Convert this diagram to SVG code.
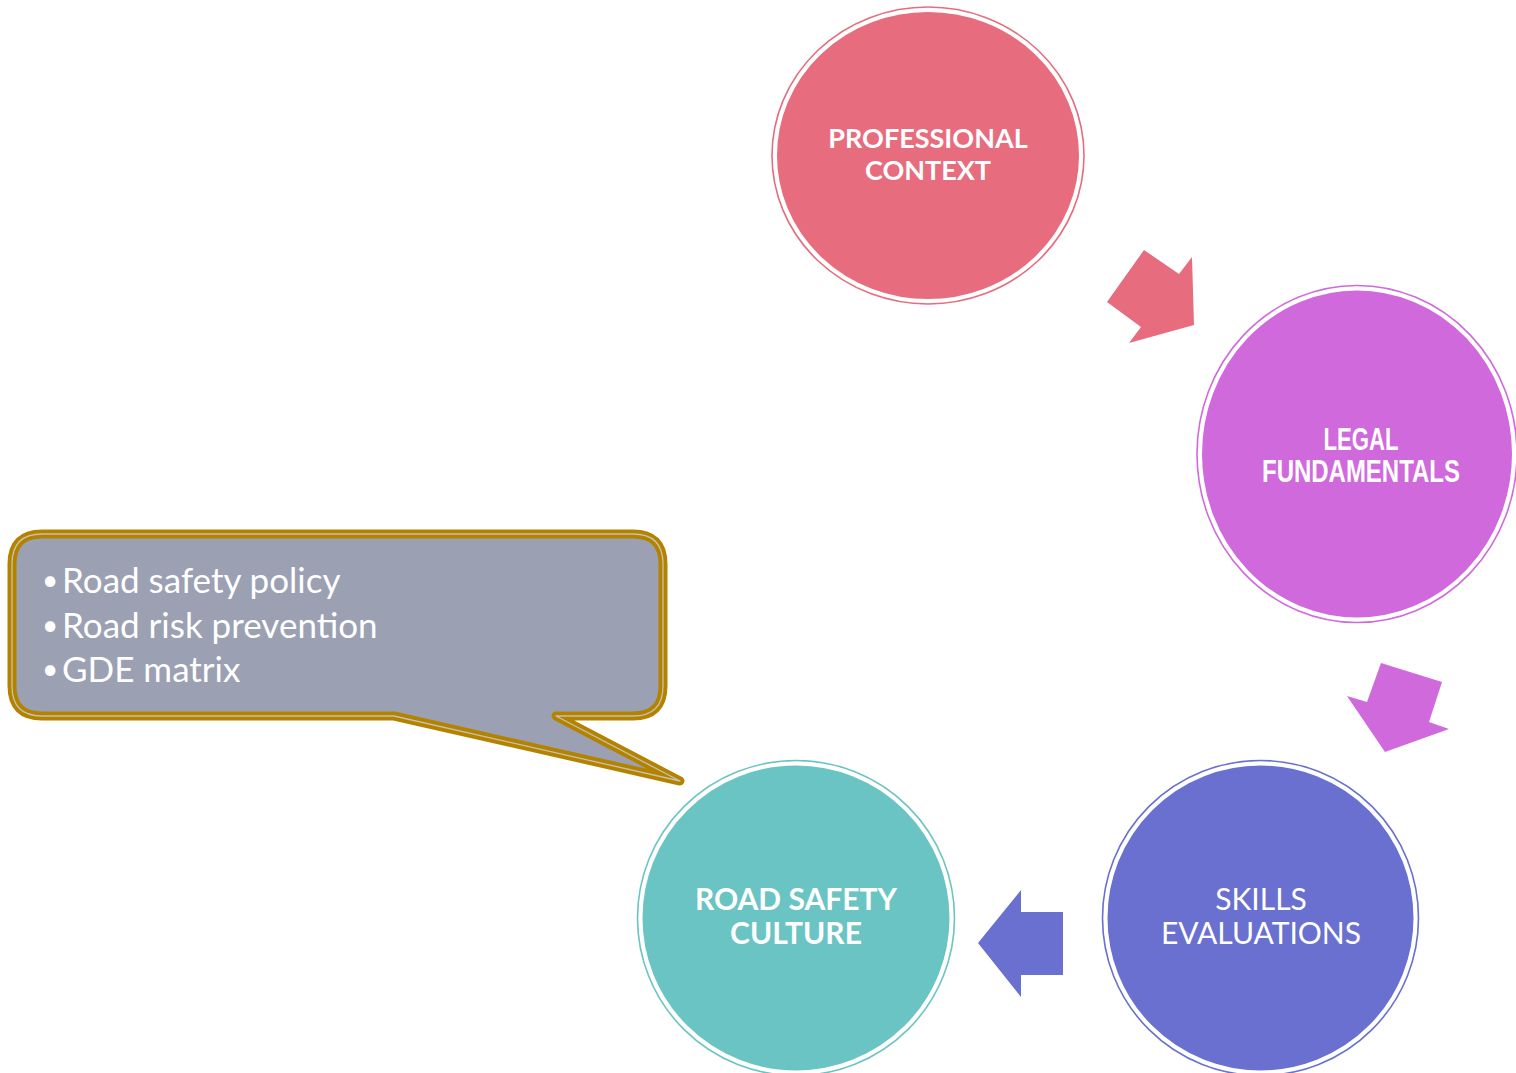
<svg xmlns="http://www.w3.org/2000/svg" width="1516" height="1073" viewBox="0 0 1516 1073">
<style>
.ring{fill:none;stroke-width:1.6}
.disc{stroke:#fff;stroke-width:3}
.lbl{fill:#fff;font-family:Lato,"Open Sans","Liberation Sans",sans-serif;font-size:27px;text-anchor:middle}
.big{font-size:30px}
.b{font-weight:bold}
.arial{font-family:"Liberation Sans",Arial,sans-serif;font-weight:bold;font-size:31px}
.bul{fill:#fff;font-family:Lato,"Open Sans","Liberation Sans",sans-serif;font-size:35px}
.dot{fill:#fff;font-family:Lato,"Open Sans","Liberation Sans",sans-serif;font-size:28px}
</style>
<rect width="1516" height="1073" fill="#fff"/>
<g id="connectors">
<polygon points="1107,302 1144,250 1179,274 1192,257 1194,325 1129,343 1141,327" fill="#E66C7E"/>
<polygon points="1381,663 1442,682 1429,722 1449,729 1385,752 1347,696 1367,702" fill="#CF69DC"/>
<polygon points="1021,890 1021,912 1063,912 1063,975 1021,975 1021,997 978,943" fill="#6970D0"/>
</g>
<g id="professional">
<ellipse cx="928" cy="155.5" rx="156" ry="148.5" class="ring" stroke="#E66C7E"/>
<ellipse cx="928" cy="155.5" rx="152.5" ry="145" class="disc" fill="#E66C7E"/>
<text class="lbl b" x="928" y="148">PROFESSIONAL</text>
<text class="lbl b" x="928" y="180">CONTEXT</text>
</g>
<g id="legal">
<ellipse cx="1357" cy="454" rx="160" ry="168.5" class="ring" stroke="#CF69DC"/>
<ellipse cx="1357" cy="454" rx="156.5" ry="165" class="disc" fill="#CF69DC"/>
<text class="lbl arial" x="1361" y="450" textLength="75" lengthAdjust="spacingAndGlyphs">LEGAL</text>
<text class="lbl arial" x="1361" y="482" textLength="198" lengthAdjust="spacingAndGlyphs">FUNDAMENTALS</text>
</g>
<g id="skills">
<ellipse cx="1260.5" cy="918" rx="158" ry="157.5" class="ring" stroke="#6970D0"/>
<ellipse cx="1260.5" cy="918" rx="154.5" ry="154" class="disc" fill="#6970D0"/>
<text class="lbl big" x="1261" y="910">SKILLS</text>
<text class="lbl big" x="1261" y="944">EVALUATIONS</text>
</g>
<g id="roadsafety">
<ellipse cx="796" cy="918" rx="158.5" ry="157.5" class="ring" stroke="#6BC4C4"/>
<ellipse cx="796" cy="918" rx="155" ry="154" class="disc" fill="#6BC4C4"/>
<text class="lbl b big" x="796" y="910">ROAD SAFETY</text>
<text class="lbl b big" x="796" y="944">CULTURE</text>
</g>
<g id="callout">
<path d="M42,534 H633 Q663,534 663,564 V686 Q663,716 633,716 H556 L680,781 L394,716 H42 Q12,716 12,686 V564 Q12,534 42,534 Z" fill="#9BA0B3" stroke="#B38300" stroke-width="9" stroke-linejoin="round"/>
<path d="M42,534 H633 Q663,534 663,564 V686 Q663,716 633,716 H556 L680,781 L394,716 H42 Q12,716 12,686 V564 Q12,534 42,534 Z" fill="none" stroke="#C8C0B0" stroke-width="1.3" stroke-linejoin="round"/>
<text class="dot" x="42" y="590">•</text>
<text class="bul" x="62" y="593">Road safety policy</text>
<text class="dot" x="42" y="635">•</text>
<text class="bul" x="62" y="638">Road risk prevention</text>
<text class="dot" x="42" y="679">•</text>
<text class="bul" x="62" y="682">GDE matrix</text>
</g>
</svg>
